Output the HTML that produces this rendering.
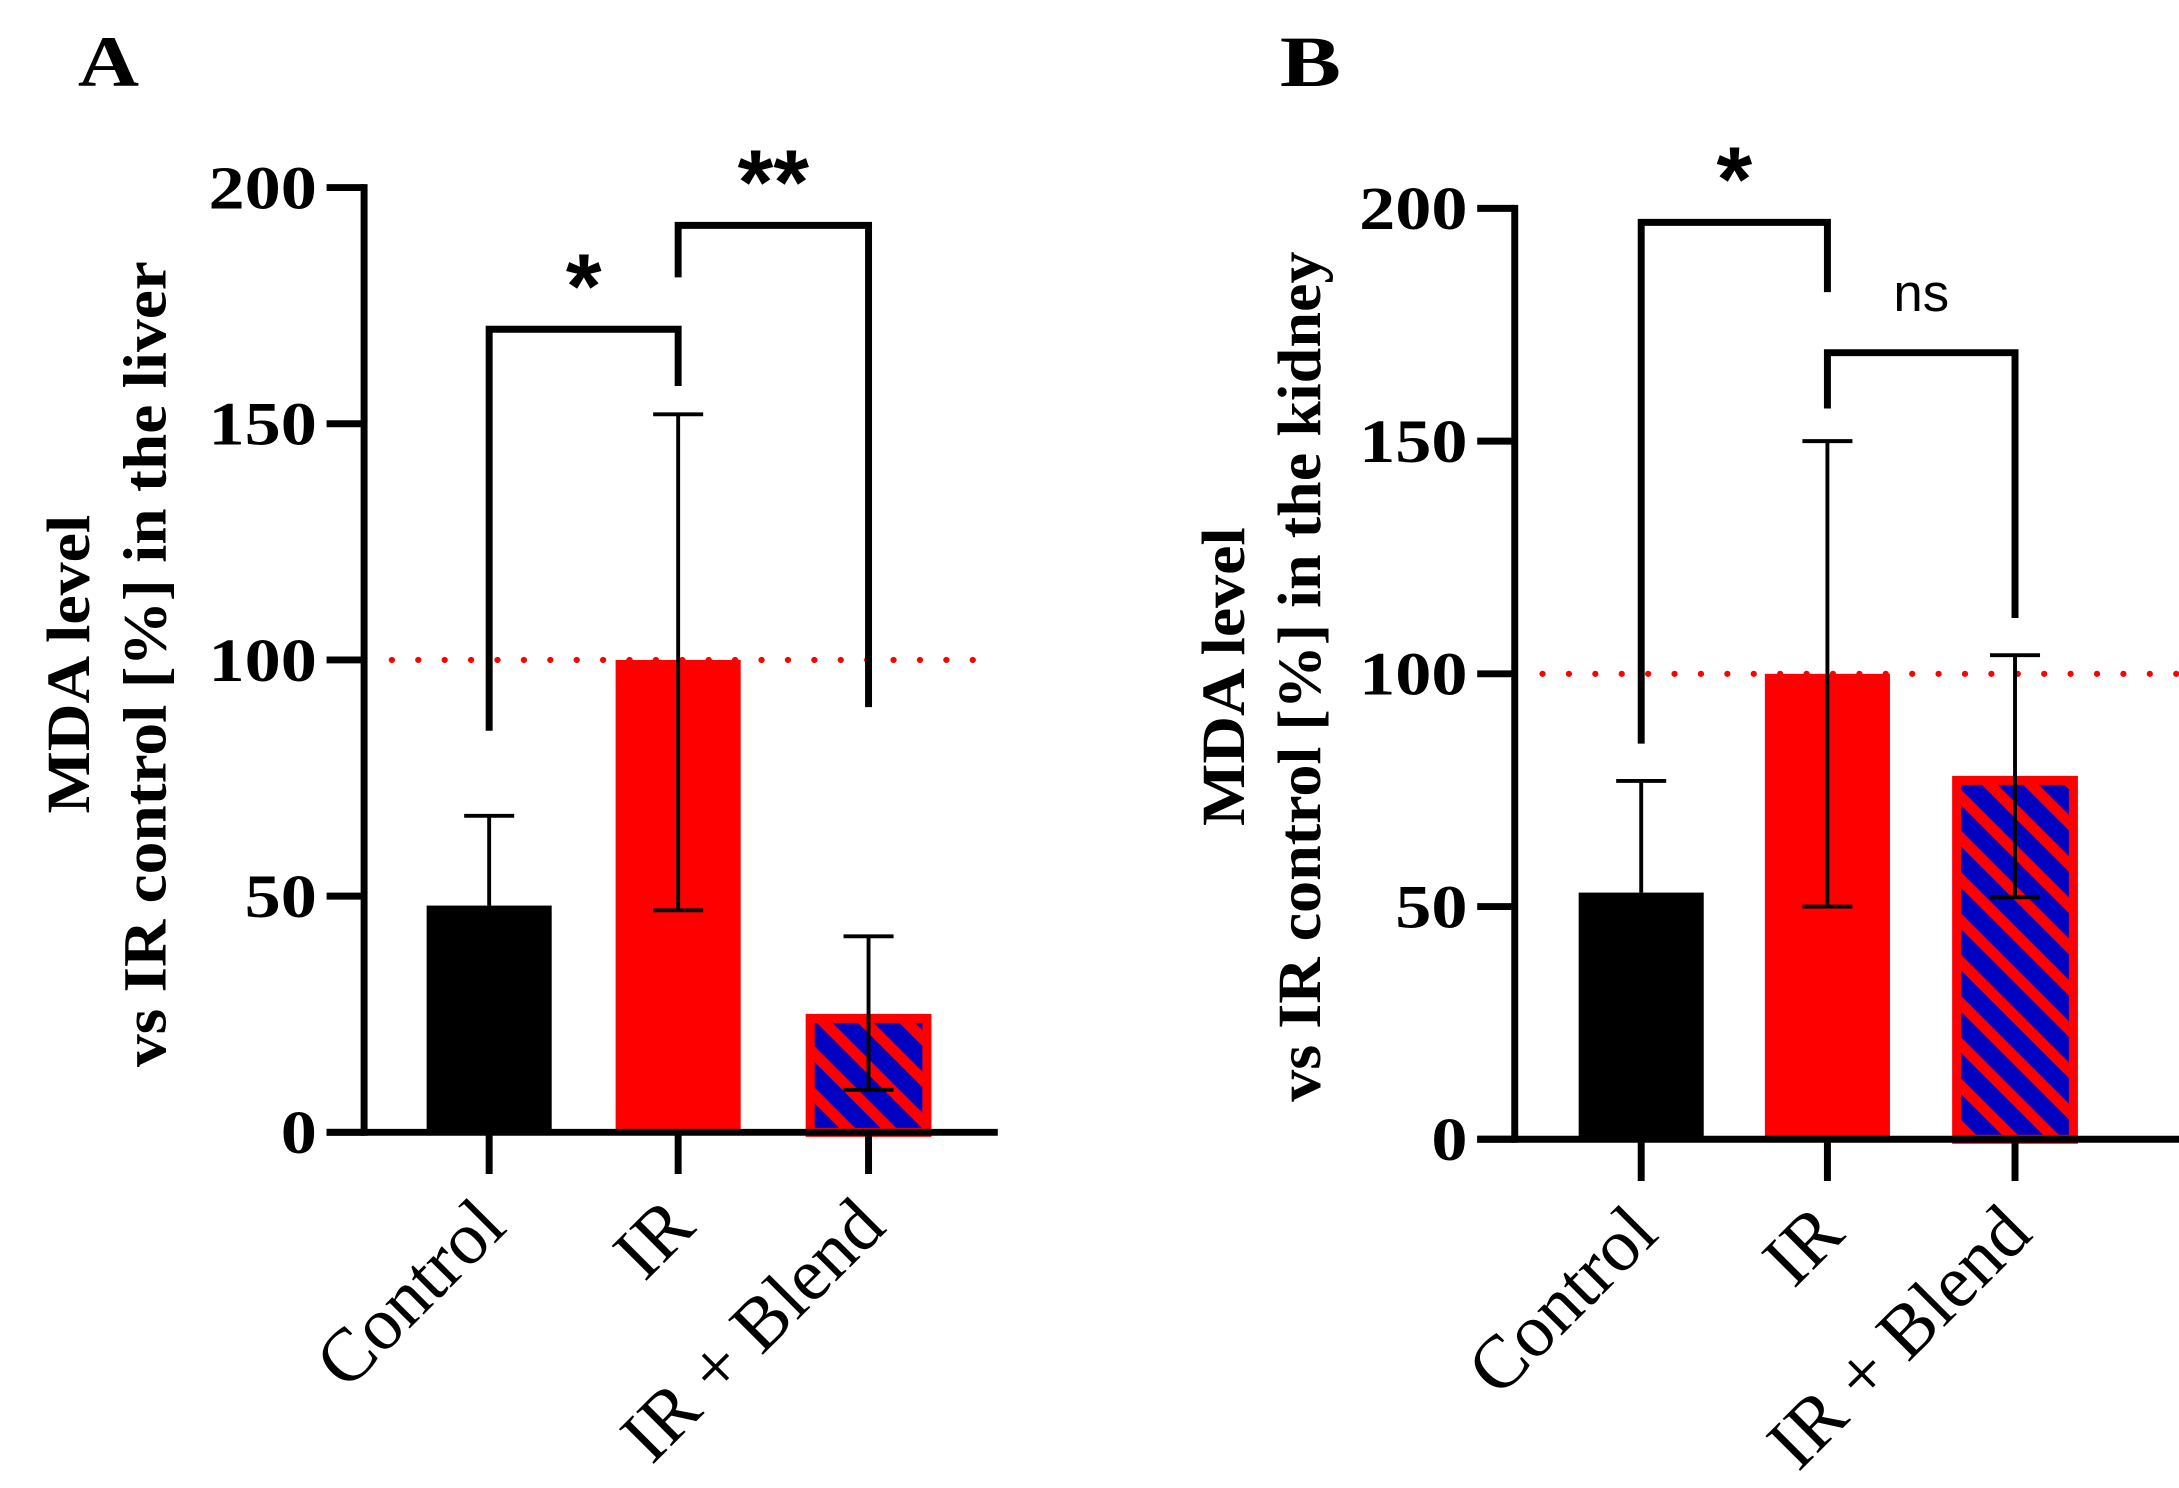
<!DOCTYPE html>
<html><head><meta charset="utf-8"><style>
html,body{margin:0;padding:0;background:#fff;}
svg{display:block;}
</style></head><body>
<svg id="chart" width="2179" height="1488" viewBox="0 0 1568 1071" preserveAspectRatio="none" xmlns="http://www.w3.org/2000/svg">
<defs>
<pattern id="hatch" patternUnits="userSpaceOnUse" width="21" height="21" patternTransform="rotate(-45)">
<rect x="0" y="0" width="21" height="21" fill="#0000c0"/>
<rect x="0" y="0" width="8" height="21" fill="#ff0000"/>
</pattern>
</defs>
</svg>
<script>
const categories = ['Control', 'IR', 'IR + Blend'];
const liverMeans = [48, 100, 25];
const liverUpper = [67, 152, 41.5];
const liverLower = [48, 47, 9];
const kidneyMeans = [53, 100, 78];
const kidneyUpper = [77, 150, 104];
const kidneyLower = [53, 50, 52];
const yTicks = [0, 50, 100, 150, 200];
const refValue = [100];
const liverSig = [{a:0, b:1, y:170, la:85, lb:158, label:'*'}, {a:1, b:2, y:192, la:181, lb:90, label:'**'}];
const kidneySig = [{a:0, b:1, y:197, la:85, lb:182, label:'*'}, {a:1, b:2, y:169, la:157, lb:112, label:'ns'}];

const svg = document.getElementById('chart');
const NS = 'http://www.w3.org/2000/svg';
function mk(tag, attrs, parent){
  const e = document.createElementNS(NS, tag);
  for (const k in attrs) e.setAttribute(k, attrs[k]);
  (parent||svg).appendChild(e);
  return e;
}
const fills = ['#000000', '#ff0000', 'url(#hatch)'];

function panel(cfg){
  const g = mk('g', {});
  
  
  const y = v => cfg.y0 - (cfg.y0 - cfg.y200) * v / 200;
  const x = i => cfg.xc[i];
  const L = mk('text', {x: cfg.letterX, y: 62, 'font-family': '"Liberation Serif", serif', 'font-weight': 'bold', 'font-size': 52, textLength: 44, lengthAdjust: 'spacingAndGlyphs'}, g);
  L.textContent = cfg.letter;
  
  
  cfg.means.forEach((m, i) => {
    const r = mk('rect', {x: x(i) - 45, y: y(m), width: 90, height: cfg.y0 - y(m), fill: fills[i]}, g);
    
    
    if (i === 2) {
      mk('rect', {x: x(i) - 42, y: y(m) + 3, width: 84, height: cfg.y0 - y(m) - 3, fill: 'none', stroke: '#ff0000', 'stroke-width': 6.5}, g);
    }
  });
  const ref = mk('line', {x1: cfg.axisX + 20, x2: cfg.xEnd, y1: y(refValue[0]), y2: y(refValue[0]), stroke: '#ff0000', 'stroke-width': 4.5, 'stroke-dasharray': '0 19', 'stroke-linecap': 'round'}, g);
  
  
  cfg.means.forEach((m, i) => {
    const eg = mk('g', {stroke: '#000', 'stroke-width': 2.8}, g);
    
    
    mk('line', {x1: x(i), x2: x(i), y1: y(cfg.upper[i]), y2: y(cfg.lower[i])}, eg);
    mk('line', {x1: x(i) - 18, x2: x(i) + 18, y1: y(cfg.upper[i]), y2: y(cfg.upper[i])}, eg);
    if (cfg.lower[i] < m) mk('line', {x1: x(i) - 18, x2: x(i) + 18, y1: y(cfg.lower[i]), y2: y(cfg.lower[i])}, eg);
  });
  const ax = mk('g', {stroke: '#000', 'stroke-width': 5, fill: 'none'}, g);
  
  
  mk('line', {x1: cfg.axisX, x2: cfg.axisX, y1: y(200) - 2.5, y2: cfg.y0 + 2.5}, ax);
  mk('line', {x1: cfg.axisX - 27, x2: cfg.xEnd, y1: cfg.y0, y2: cfg.y0}, ax);
  yTicks.forEach(t => {
    mk('line', {x1: cfg.axisX - 27, x2: cfg.axisX, y1: y(t), y2: y(t)}, ax);
    const s = String(t);
    const tl = mk('text', {x: cfg.axisX - 34, y: y(t) + 15, 'text-anchor': 'end', 'font-family': '"Liberation Serif", serif', 'font-weight': 'bold', 'font-size': 44, textLength: 26 * s.length, lengthAdjust: 'spacingAndGlyphs', fill: '#000'}, g);
    tl.textContent = s;
    
    
  });
  categories.forEach((c, i) => {
    mk('line', {x1: x(i), x2: x(i), y1: cfg.y0, y2: cfg.y0 + 30}, ax);
    const tx = x(i) + 14, ty = cfg.y0 + 70;
    const cl = mk('text', {x: tx, y: ty, 'text-anchor': 'end', transform: 'rotate(-45 ' + tx + ' ' + ty + ')', 'font-family': '"Liberation Serif", serif', 'font-size': 54, fill: '#000'}, g);
    cl.textContent = c;
    
    
  });
  const tt = mk('text', {transform: 'translate(' + cfg.titleX + ' ' + cfg.titleY + ') rotate(-90)', 'text-anchor': 'middle', 'font-family': '"Liberation Serif", serif', 'font-weight': 'bold', 'font-size': 44, fill: '#000'}, g);
  
  
  const t1 = mk('tspan', {x: 0, y: 0, textLength: 215, lengthAdjust: 'spacingAndGlyphs'}, tt); t1.textContent = 'MDA level';
  const t2 = mk('tspan', {x: 0, y: 55, textLength: cfg.title2Len, lengthAdjust: 'spacingAndGlyphs'}, tt); t2.textContent = cfg.title2;
  cfg.sig.forEach(s => {
    const bg = mk('g', {}, g);
    
    
    mk('polyline', {points: x(s.a) + ',' + y(s.la) + ' ' + x(s.a) + ',' + y(s.y) + ' ' + x(s.b) + ',' + y(s.y) + ' ' + x(s.b) + ',' + y(s.lb), fill: 'none', stroke: '#000', 'stroke-width': 5}, bg);
    const isNs = s.label === 'ns';
    const lt = mk('text', {x: (x(s.a) + x(s.b)) / 2, y: y(s.y) + (isNs ? -30 : 22), 'text-anchor': 'middle', 'font-family': '"Liberation Sans", sans-serif', 'font-weight': isNs ? 'normal' : 'bold', 'font-size': isNs ? 38 : 66, fill: '#000'}, bg);
    lt.textContent = s.label;
    if (!isNs) lt.setAttribute('dy', '-30');
  });
}

panel({name: 'panel-a-liver', letter: 'A', letterX: 56, axisX: 262, y0: 815, y200: 135, xc: [352, 488, 625], xEnd: 718,
  means: liverMeans, upper: liverUpper, lower: liverLower, sig: liverSig,
  title2: 'vs IR control [%] in the liver', title2Len: 580, titleX: 64, titleY: 478});
panel({name: 'panel-b-kidney', letter: 'B', letterX: 921, axisX: 1090, y0: 820, y200: 150, xc: [1181, 1315, 1450], xEnd: 1568,
  means: kidneyMeans, upper: kidneyUpper, lower: kidneyLower, sig: kidneySig,
  title2: 'vs IR control [%] in the kidney', title2Len: 612, titleX: 895, titleY: 487});
</script>
</body></html>
